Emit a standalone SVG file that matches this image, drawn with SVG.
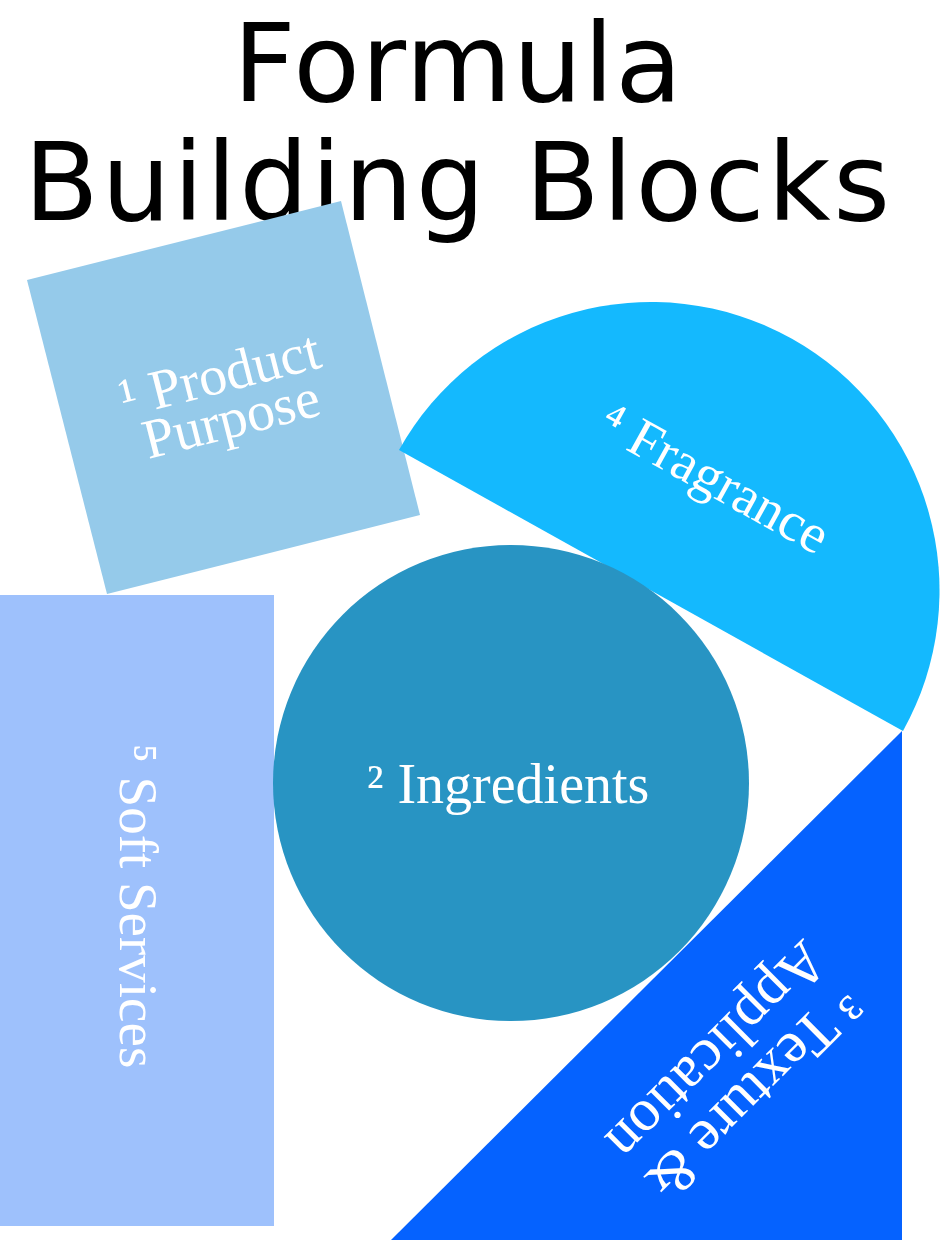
<svg xmlns="http://www.w3.org/2000/svg" width="940" height="1240" viewBox="0 0 940 1240">
<style>
.title{font-family:"DejaVu Sans","Liberation Sans",Arial,sans-serif;font-size:109px;fill:#000000}
.lbl{font-family:"Liberation Serif","Times New Roman",serif;fill:#ffffff;text-anchor:middle}
</style>
<rect x="0" y="0" width="940" height="1240" fill="#ffffff"/>
<g id="title">
<text class="title" x="233" y="101" textLength="449">Formula</text>
<text class="title" x="24" y="220" textLength="866">Building Blocks</text>
</g>
<g id="product-purpose">
<polygon points="27,280 341,201 420,515 107,594" fill="#95CAEA"/>
<g transform="translate(223.5,397.5) rotate(-14.3)">
<text class="lbl" x="2" y="-5" font-size="56">¹ Product</text>
<text class="lbl" x="2" y="41" font-size="56">Purpose</text>
</g>
</g>
<g id="fragrance">
<path d="M 399 450 A 1 1 0 0 1 903 731 Z" fill="#14B9FE"/>
<text class="lbl" transform="translate(706,494) rotate(29)" x="0" y="0" font-size="55">⁴ Fragrance</text>
</g>
<g id="soft-services">
<rect x="0" y="595" width="274" height="631" fill="#9EC1FC"/>
<text class="lbl" transform="translate(120,906) rotate(90)" x="0" y="0" font-size="55">⁵ Soft Services</text>
</g>
<g id="ingredients">
<circle cx="511" cy="783" r="238" fill="#2894C3"/>
<text class="lbl" x="508" y="803" font-size="56">² Ingredients</text>
</g>
<g id="texture-application">
<polygon points="902,731 902,1241 390,1241" fill="#0562FF"/>
<g transform="translate(740,1080) rotate(135)">
<text class="lbl" x="0" y="0" font-size="60">³ Texture &amp;</text>
<text class="lbl" x="-4" y="56" font-size="60">Application</text>
</g>
</g>
</svg>
